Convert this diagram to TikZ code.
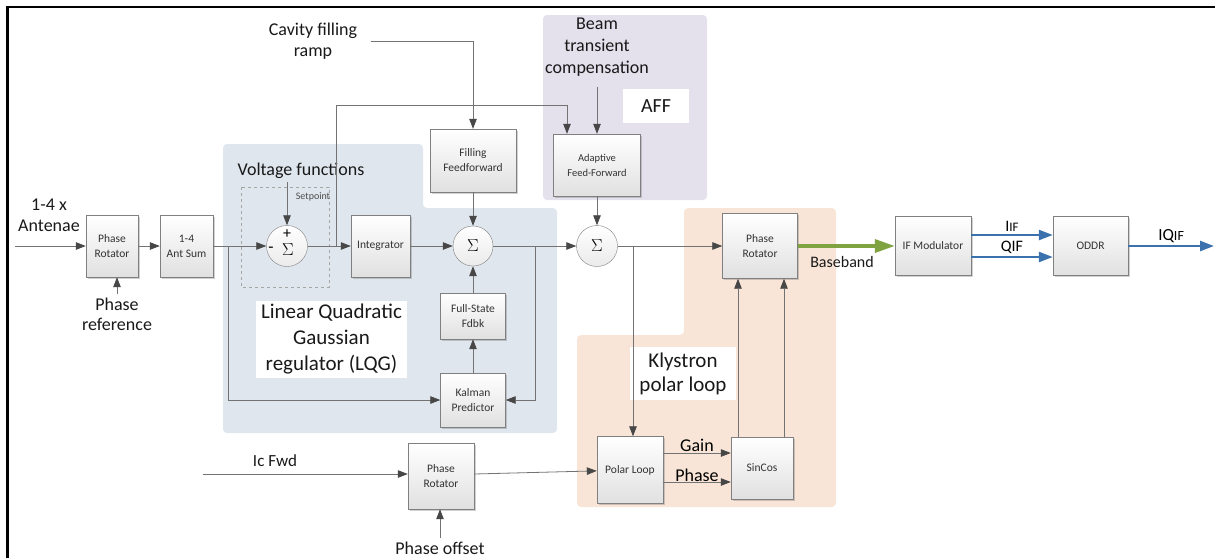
\documentclass[tikz,border=0pt]{standalone}
\usepackage{fontspec}
\setmainfont{Carlito}
\usetikzlibrary{arrows.meta}
\usetikzlibrary{positioning}
\usetikzlibrary{shadows}
\definecolor{lqgbg}{RGB}{223,230,238}
\definecolor{affbg}{RGB}{228,224,236}
\definecolor{klybg}{RGB}{249,229,215}
\definecolor{mblue}{RGB}{59,114,174}
\definecolor{mgreen}{RGB}{128,163,66}
\tikzset{block/.style = {draw=black!50, top color=white, bottom color=black!12,
                         inner sep=0pt, align=center, text=black!80,
                         font=\fontsize{11.5}{15}\selectfont,
                         drop shadow={shadow xshift=1.5pt, shadow yshift=-1.5pt,
                                      opacity=0.3, fill=black!60}},
         sumnode/.style = {circle, draw=black!50, top color=white, bottom color=black!8,
                           minimum size=41pt, inner sep=0pt,
                           font=\fontsize{18}{18}\selectfont},
         lbl/.style = {align=center, text=black!90, font=\fontsize{18}{21}\selectfont},
         whitebox/.style = {fill=white, inner sep=0pt, align=center, text=black!90},
         sig/.style = {draw=black!55, line width=0.8pt,
                       -{Triangle[length=10pt, width=7.5pt, color=black!72]}},
         blusig/.style = {draw=mblue, line width=2.4pt,
                          -{Triangle[length=14pt, width=10pt]}},
         bbsig/.style = {draw=mgreen, line width=3.4pt,
                         -{Triangle[length=20pt, width=13pt]}}}

\begin{document}
\begin{tikzpicture}[x=1pt, y=-1pt]
    \useasboundingbox (0, 0) rectangle (1215, 558);
    \draw [line width=2.5pt] (7.5, 558) -- (7.5, 7) -- (1215, 7);

    % shaded areas
    \fill [lqgbg, rounded corners=4pt] (223, 144) -- (423, 144) -- (423, 208)
        -- (557, 208) -- (557, 433) -- (223, 433) -- cycle;
    \fill [affbg, rounded corners=4pt] (543, 15) rectangle (707, 200);
    \fill [klybg, rounded corners=4pt] (684, 208) -- (836, 208) -- (836, 507)
        -- (577, 507) -- (577, 335) -- (684, 335) -- cycle;

    \node [whitebox, minimum width=151pt, minimum height=77pt,
           font=\fontsize{21}{26}\selectfont] (lqgl) at (331.5, 339.5)
          {Linear Quadratic\\Gaussian\\regulator (LQG)};
    \node [whitebox, minimum width=66pt, minimum height=34pt,
           font=\fontsize{20}{20}\selectfont] (affl) at (656, 106) {AFF};
    \node [whitebox, minimum width=106pt, minimum height=53pt,
           font=\fontsize{21}{24}\selectfont] (klyl) at (683, 373.5)
          {Klystron\\polar loop};

    \draw [dashed, black!35] (241, 187) rectangle (329, 287);
    \node [text=black!70, font=\fontsize{10}{10}\selectfont] (setpt) at (313, 197) {Setpoint};

    % blocks
    \node [block, minimum width=52pt, minimum height=62pt] (prot) at (112, 246) {Phase\\Rotator};
    \node [block, minimum width=53pt, minimum height=62pt] (antsum) at (186.5, 246) {1-4\\Ant Sum};
    \node [sumnode] (sum1) at (287, 246) {};
    \node [font=\fontsize{18}{18}\selectfont] (sig1) at ([xshift=1pt, yshift=-4pt]sum1.center) {$\Sigma$};
    \node [font=\fontsize{16}{16}\selectfont] (plus1) at ([yshift=12pt]sum1.center) {+};
    \node [font=\fontsize{17}{17}\selectfont] (minus1) at ([xshift=-16pt, yshift=-4pt]sum1.center) {-};
    \node [block, minimum width=59pt, minimum height=62pt] (integ) at (380.5, 246) {Integrator};
    \node [block, minimum width=86pt, minimum height=63pt] (fff) at (473, 160.5) {Filling\\Feedforward};
    \node [sumnode, minimum size=40pt] (sum2) at (473, 246) {$\Sigma$};
    \node [block, minimum width=65pt, minimum height=46pt] (fsf) at (473, 316) {Full-State\\Fdbk};
    \node [block, minimum width=65pt, minimum height=54pt] (kalman) at (473, 400) {Kalman\\Predictor};
    \node [block, minimum width=87pt, minimum height=62pt,
           font=\fontsize{10.5}{15}\selectfont] (aff) at (597, 165) {Adaptive\\Feed-Forward};
    \node [sumnode] (sum3) at (597, 246) {$\Sigma$};
    \node [block, minimum width=75pt, minimum height=65pt] (prot2) at (760, 246) {Phase\\Rotator};
    \node [block, minimum width=66pt, minimum height=67pt] (polar) at (630, 470) {Polar Loop};
    \node [block, minimum width=62pt, minimum height=62pt] (sincos) at (762, 468) {SinCos};
    \node [block, minimum width=66pt, minimum height=66pt] (prot3) at (441, 476) {Phase\\Rotator};
    \node [block, minimum width=76pt, minimum height=59pt] (ifmod) at (933, 246) {IF Modulator};
    \node [block, minimum width=75pt, minimum height=59pt] (oddr) at (1090.5, 246) {ODDR};

    % outside labels
    \node [lbl] (antlbl) at (49, 215) {1-4 x\\Antenae};
    \node [lbl, font=\fontsize{18}{20}\selectfont] (phref) at (117, 314) {Phase\\reference};
    \node [lbl] (vfunc) at (301, 171) {Voltage functions};
    \node [lbl] (cav) at (313, 41) {Cavity filling\\ramp};
    \node [lbl, font=\fontsize{18}{22}\selectfont] (beam) at (597, 47) {Beam\\transient\\compensation};
    \node [lbl, font=\fontsize{17}{17}\selectfont] (icl) at (275, 461) {Ic Fwd};
    \node [lbl] (phoff) at (440, 548) {Phase offset};
    \node [lbl, font=\fontsize{16}{16}\selectfont] (bblbl) at (842, 262) {Baseband};

    \coordinate (antin) at (15, 246);
    \coordinate (icin) at (203, 474);
    \coordinate (iqout) at (1214, 246);
    \coordinate (br1) at (228, 246);
    \coordinate (br2) at (336, 246);
    \coordinate (top2) at (336, 105);
    \coordinate (br3) at (535, 246);
    \coordinate (br4) at (633, 246);

    % signal paths
    \draw [sig] (antin) -- (prot);
    \draw [sig] (phref.north) -- (phref.north |- prot.south);
    \draw [sig] (prot) -- (antsum);
    \draw [sig] (antsum) -- (sum1);
    \draw [sig] (br1) |- (kalman);
    \draw [sig] (vfunc.south -| sum1) -- (sum1);
    \draw [sig] (sum1) -- (integ);
    \draw [sig] (br2) -- (top2) -| ([xshift=-30pt]aff.north);
    \draw [sig] ([xshift=10pt]cav.east) -| (fff);
    \draw [sig] (fff) -- (sum2);
    \draw [sig] (integ) -- (sum2);
    \draw [sig] (kalman) -- (fsf);
    \draw [sig] (fsf) -- (sum2);
    \draw [sig] (sum2) -- (sum3);
    \draw [sig] (br3) |- (kalman);
    \draw [sig] ([yshift=-7pt]beam.south) -- (aff);
    \draw [sig] (aff) -- (sum3);
    \draw [sig] (sum3) -- (prot2);
    \draw [sig] (br4) -- (br4 |- polar.north);
    \draw [sig] ([xshift=-24pt]sincos.north) -- ([xshift=-24pt]sincos.north |- prot2.south);
    \draw [sig] ([xshift=22pt]sincos.north) -- ([xshift=22pt]sincos.north |- prot2.south);
    \draw [sig] ([yshift=17pt]polar.east) -- ([yshift=17pt]polar.east -| sincos.west)
        node [midway, above, inner sep=1pt, font=\fontsize{18}{18}\selectfont] {Gain};
    \draw [sig] ([yshift=-12pt]polar.east) -- ([yshift=-12pt]polar.east -| sincos.west)
        node [midway, above, inner sep=0pt, font=\fontsize{18}{18}\selectfont] {Phase};
    \draw [sig] (icin) -- (icin -| prot3.west);
    \draw [sig] (phoff.north) -- (phoff.north |- prot3.south);
    \draw [sig] (prot3.east |- icin) -- (polar);

    \draw [bbsig] (prot2) -- (ifmod);
    \draw [blusig] ([yshift=11pt]ifmod.east) -- ([yshift=11pt]oddr.west)
        node [midway, above, inner sep=2pt, font=\fontsize{16}{16}\selectfont]
        {I{\fontsize{13}{13}\selectfont IF}};
    \draw [blusig] ([yshift=-11pt]ifmod.east) -- ([yshift=-11pt]oddr.west)
        node [midway, above, inner sep=2pt, font=\fontsize{16}{16}\selectfont] {QIF};
    \draw [blusig] (oddr) -- (iqout)
        node [midway, above, inner sep=2pt, font=\fontsize{17}{17}\selectfont]
        {IQ{\fontsize{14}{14}\selectfont IF}};
  \end{tikzpicture}
\end{document}
